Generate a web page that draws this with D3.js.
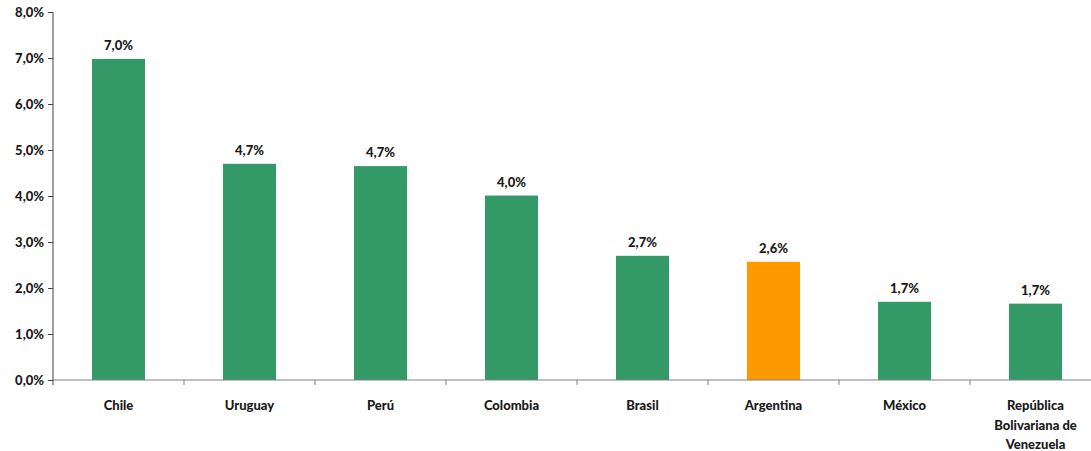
<!DOCTYPE html>
<html>
<head>
<meta charset="utf-8">
<script src="https://cdn.jsdelivr.net/npm/d3@7"></script>
<style>
  html, body { margin: 0; padding: 0; background: #fff; }
  svg { display: block; }
  text { font-family: Lato, "Open Sans", "Liberation Sans", sans-serif; font-weight: 900; fill: #1a1a1a; }
</style>
</head>
<body>
<svg id="chart" width="1091" height="451"></svg>
<script>
// Growth rates by country (%)
const categories = ["Chile", "Uruguay", "Perú", "Colombia", "Brasil", "Argentina", "México", "República Bolivariana de Venezuela"];
const categoryLines = [["Chile"], ["Uruguay"], ["Perú"], ["Colombia"], ["Brasil"], ["Argentina"], ["México"], ["República", "Bolivariana de", "Venezuela"]];
const values = [6.98, 4.70, 4.65, 4.01, 2.70, 2.57, 1.70, 1.66];
const valueLabels = ["7,0%", "4,7%", "4,7%", "4,0%", "2,7%", "2,6%", "1,7%", "1,7%"];
const highlighted = ["Argentina"];
const yTicks = [0, 1, 2, 3, 4, 5, 6, 7, 8];

const svg = d3.select("#chart");
const plotLeft = 53, plotRight = 1101, plotTop = 12, plotBottom = 380;
const fontSize = 13;

const x = d3.scaleBand().domain(categories).range([plotLeft, plotRight]).paddingInner(0.595).paddingOuter(0.2975);
const y = d3.scaleLinear().domain([0, 8]).range([plotBottom, plotTop]);
const fmt = d => d.toFixed(1).replace(".", ",") + "%";

// bars
svg.append("g").selectAll("rect").data(categories).join("rect")
  .attr("x", d => x(d))
  .attr("width", x.bandwidth())
  .attr("y", (d, i) => y(values[i]))
  .attr("height", (d, i) => y(0) - y(values[i]))
  .attr("fill", d => highlighted.includes(d) ? "#FF9900" : "#339966");

// value labels
svg.append("g").selectAll("text").data(categories).join("text")
  .attr("x", d => x(d) + x.bandwidth() / 2)
  .attr("y", (d, i) => y(values[i]) - 9)
  .attr("text-anchor", "middle")
  .attr("font-size", fontSize)
  .text((d, i) => valueLabels[i]);

// y axis
const yAxis = svg.append("g").attr("transform", `translate(${plotLeft},0)`)
  .call(d3.axisLeft(y).tickValues(yTicks).tickFormat(fmt).tickSize(5).tickSizeOuter(0));
yAxis.select(".domain").attr("stroke", "#404040").attr("d", `M0,${plotTop}V${plotBottom + 5}`);
yAxis.selectAll(".tick line").attr("stroke", "#404040");
yAxis.selectAll(".tick text").attr("font-size", fontSize).attr("x", -9).attr("fill", "#1a1a1a")
  .style("font-family", "Lato, 'Open Sans', sans-serif").style("font-weight", 900);

// x axis line and boundary ticks
const xg = svg.append("g");
xg.append("line").attr("x1", plotLeft).attr("x2", plotRight).attr("y1", plotBottom).attr("y2", plotBottom)
  .attr("stroke", "#808080").attr("stroke-width", 1.2);
const step = x.step();
xg.selectAll("line.b").data(d3.range(1, categories.length + 1)).join("line")
  .attr("class", "b")
  .attr("x1", i => plotLeft + i * step).attr("x2", i => plotLeft + i * step)
  .attr("y1", plotBottom).attr("y2", plotBottom + 5)
  .attr("stroke", "#808080");

// category labels
const cat = svg.append("g").selectAll("text").data(categories).join("text")
  .attr("x", d => x(d) + x.bandwidth() / 2)
  .attr("y", 410)
  .attr("text-anchor", "middle")
  .attr("font-size", fontSize);
cat.each(function (d, i) {
  d3.select(this).selectAll("tspan").data(categoryLines[i]).join("tspan")
    .attr("x", x(d) + x.bandwidth() / 2)
    .attr("dy", (t, j) => j === 0 ? 0 : 19.5)
    .text(t => t);
});
</script>
</body>
</html>
